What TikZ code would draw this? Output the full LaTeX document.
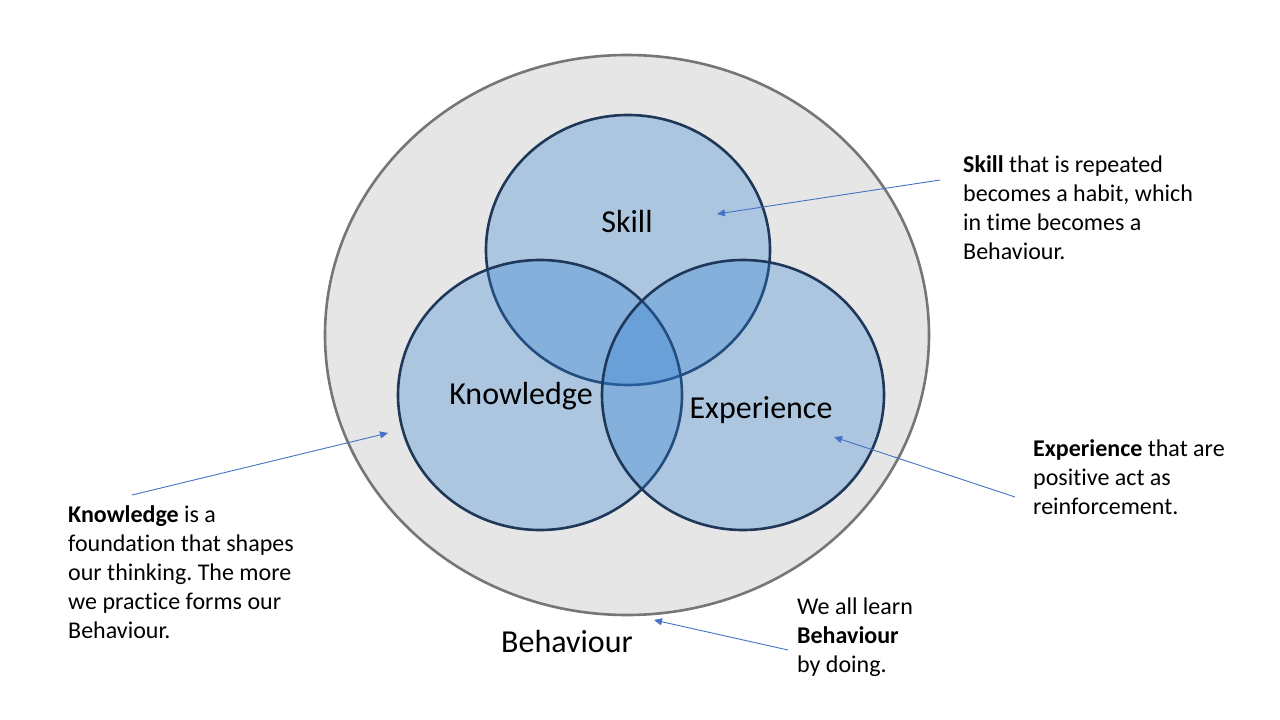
\documentclass[tikz,border=0pt]{standalone}
\usepackage{fontspec}
\setmainfont{Carlito}[Ligatures={NoCommon}]
\frenchspacing
\usetikzlibrary{arrows.meta}
\definecolor{outerfill}{RGB}{231,230,230}
\definecolor{outerline}{RGB}{118,118,118}
\definecolor{setfill}{RGB}{44,127,211}
\definecolor{setline}{RGB}{31,56,90}
\definecolor{arrowblue}{RGB}{68,114,196}
\tikzset{
  outer/.style={draw=outerline, fill=outerfill, line width=2.6pt},
  setcirc/.style={draw=setline, fill=setfill, fill opacity=0.31, draw opacity=1, line width=2.6pt},
  lbl/.style={font=\fontsize{32}{38}\selectfont, inner sep=0pt},
  note/.style={font=\fontsize{24}{29}\selectfont, align=left, inner sep=0pt, anchor=north west},
  pointer/.style={draw=arrowblue, line width=0.9pt, -{Triangle[width=7pt,length=8pt]}}
}
\begin{document}
\begin{tikzpicture}[x=1pt,y=-1pt]
\useasboundingbox (0,0) rectangle (1280,720);
\fill[white] (0,0) rectangle (1280,720);
\draw[outer] (627,335) ellipse [x radius=302, y radius=280];
\draw[setcirc] (628,250) ellipse [x radius=142, y radius=135];
\draw[setcirc] (540,395) ellipse [x radius=142, y radius=135];
\draw[setcirc] (743,395) ellipse [x radius=141, y radius=135];
\node[lbl] (skill) at (627,221) {Skill};
\node[lbl] (knowledge) at (521,396) {Knowledge};
\node[lbl] (experience) at (761,410) {Experience};
\node[lbl] (behaviour) at (567,642) {Behaviour};
\coordinate (skilltip) at (717,214);
\coordinate (knowtip) at (388,433);
\coordinate (exptip) at (834,437);
\coordinate (behtip) at (654,620);
\node[note] (skillnote) at (963,155) {\textbf{Skill} that is repeated\\becomes a habit, which\\in time becomes a\\Behaviour.};
\node[note] (knownote) at (68,505) {\textbf{Knowledge} is a\\foundation that shapes\\our thinking. The more\\we practice forms our\\Behaviour.};
\node[note] (expnote) at (1033,439) {\textbf{Experience} that are\\positive act as\\reinforcement.};
\node[note] (behnote) at (797,598) {We all learn\\\textbf{Behaviour}\\by doing.};
\coordinate (skillfrom) at (940,180);
\coordinate (knowfrom) at (132,495);
\coordinate (expfrom) at (1015,497);
\coordinate (behfrom) at (788,650);
\draw[pointer] (skillfrom) -- (skilltip);
\draw[pointer] (knowfrom) -- (knowtip);
\draw[pointer] (expfrom) -- (exptip);
\draw[pointer] (behfrom) -- (behtip);
\end{tikzpicture}
\end{document}
